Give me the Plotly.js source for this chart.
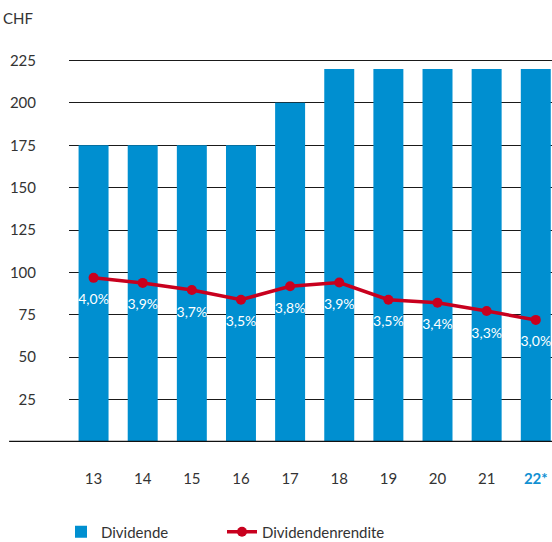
<!DOCTYPE html>
<html>
<head>
<meta charset="utf-8">
<script src="https://cdn.plot.ly/plotly-3.0.1.min.js"></script>
<style>html,body{margin:0;padding:0;background:#fff;}#chart{width:552px;height:542px;}</style>
</head>
<body>
<div id="chart"></div>
<script>
// Data
const years = ['13','14','15','16','17','18','19','20','21','22*'];
const yearLabels = ['13','14','15','16','17','18','19','20','21','<b><span style="color:#1090D2">22*</span></b>'];
const dividend = [175, 175, 175, 175, 200, 220, 220, 220, 220, 220];
const yieldValues = [4.0, 3.88, 3.71, 3.48, 3.8, 3.89, 3.48, 3.41, 3.21, 3.0];
const yieldLabels = ['4,0%', '3,9%', '3,7%', '3,5%', '3,8%', '3,9%', '3,5%', '3,4%', '3,3%', '3,0%'];
const yTicks = [25, 50, 75, 100, 125, 150, 175, 200, 225];

const FONT = 'Lato, "Open Sans", sans-serif';
const idx = years.map((_, i) => i);

const traces = [
  {
    type: 'bar', name: 'Dividende', x: idx, y: dividend, legend: 'legend',
    marker: {color: '#008FD0'}, hoverinfo: 'y'
  },
  {
    type: 'scatter', mode: 'lines+markers', name: 'Dividendenrendite', legend: 'legend2',
    x: idx, y: yieldValues, yaxis: 'y2',
    line: {color: '#C8001E', width: 3.5},
    marker: {color: '#C8001E', size: 10}
  },
  {
    type: 'scatter', mode: 'markers+text', name: 'labels', showlegend: false,
    x: idx, y: yieldValues, yaxis: 'y2',
    text: yieldLabels, textposition: 'bottom center',
    textfont: {color: '#ffffff', size: 14, family: FONT},
    marker: {size: 24, color: 'rgba(0,0,0,0)'}
  }
];

const legendCommon = {
  orientation: 'h', xref: 'container', xanchor: 'left',
  yref: 'container', y: (542 - 532) / 542, yanchor: 'middle',
  font: {family: FONT, size: 15, color: '#333'}, bgcolor: 'rgba(0,0,0,0)'
};

const layout = {
  width: 552, height: 542,
  margin: {l: 69, r: 0, t: 52, b: 100},
  paper_bgcolor: '#fff', plot_bgcolor: '#fff',
  font: {family: FONT, size: 15, color: '#333'},
  bargap: 0.39,
  showlegend: true,
  legend: Object.assign({}, legendCommon, {x: 61 / 552}),
  legend2: Object.assign({}, legendCommon, {x: 222 / 552}),
  xaxis: {
    range: [-0.5, 9.33], tickvals: idx, ticktext: yearLabels,
    showgrid: false, zeroline: false, showline: false,
    ticks: 'outside', ticklen: 23, tickcolor: 'rgba(0,0,0,0)',
    tickfont: {size: 15, color: '#333'}
  },
  yaxis: {
    range: [0, 230], tickvals: yTicks, ticktext: yTicks.map(String),
    showgrid: true, gridcolor: '#1a1a1a', gridwidth: 1,
    zeroline: false, showline: false, ticks: '',
    ticklabelstandoff: 32, tickfont: {size: 15, color: '#333'}
  },
  yaxis2: {
    overlaying: 'y', range: [(0 + 2.4) / 24.8, (230 + 2.4) / 24.8],
    visible: false
  },
  shapes: [
    {type: 'line', xref: 'paper', yref: 'y', x0: -0.124, x1: 1, y0: 0, y1: 0,
     line: {color: '#111', width: 2.5}}
  ],
  annotations: [
    {text: 'CHF', xref: 'paper', yref: 'paper', x: (35 - 69) / 483, y: (442 - 18) / 390,
     xanchor: 'right', yanchor: 'middle', showarrow: false,
     font: {family: FONT, size: 15, color: '#333'}}
  ]
};

Plotly.newPlot('chart', traces, layout, {displayModeBar: false, staticPlot: true});
</script>
</body>
</html>
